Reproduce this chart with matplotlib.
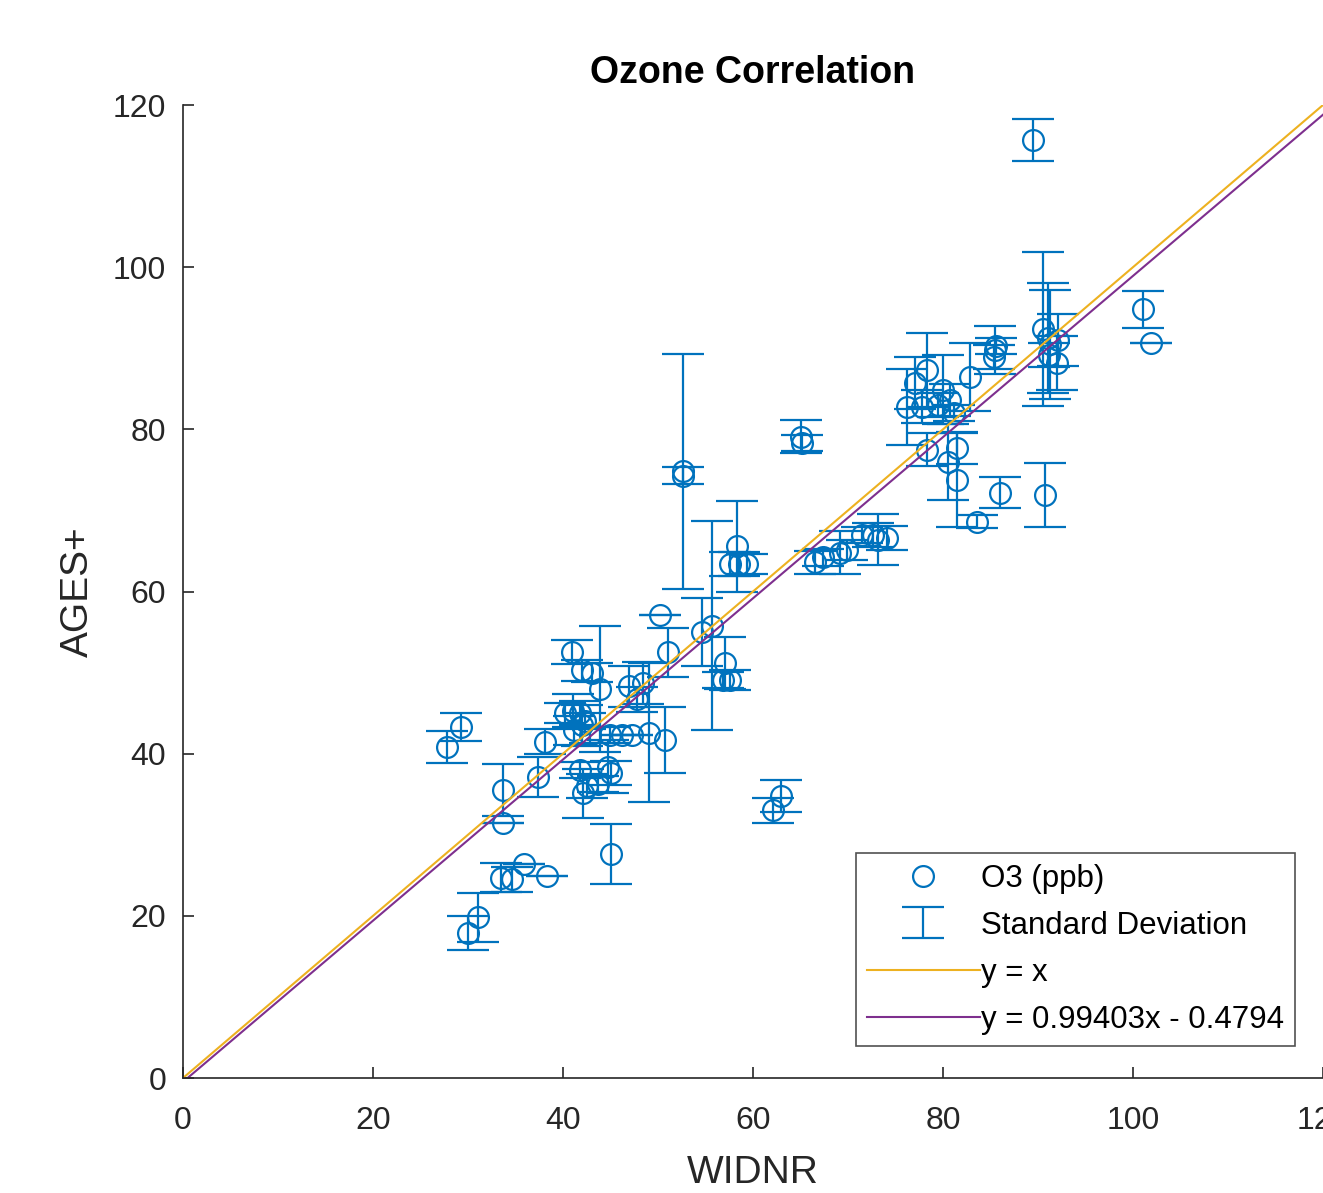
import matplotlib.pyplot as plt
import numpy as np

plt.rcParams['font.family'] = ['Liberation Sans', 'DejaVu Sans']

# WIDNR vs AGES+ ozone (ppb), with standard deviation of AGES+
widnr = [27.8, 29.3, 30.0, 31.0, 33.7, 33.7, 33.5, 34.6, 35.9, 38.3,
         37.4, 38.1, 40.9, 42.0, 43.9, 43.0, 40.2, 41.0, 41.8, 42.3,
         41.2, 42.0, 42.8, 44.9, 46.2, 47.3, 49.0, 50.7, 46.9, 47.8,
         48.4, 41.8, 42.1, 42.5, 43.7, 44.7, 45.1, 45.0, 50.2, 51.1,
         52.6, 52.6, 54.6, 55.7, 57.0, 56.8, 57.6, 58.3, 57.6, 58.5,
         59.4, 62.1, 62.9, 65.1, 65.2, 66.5, 67.4, 69.2, 69.9, 72.6,
         73.2, 74.1, 71.5, 76.2, 77.1, 78.3, 77.8, 80.0, 80.7, 79.5,
         81.2, 82.8, 85.5, 85.4, 85.6, 78.3, 80.5, 81.5, 81.5, 83.6,
         86.0, 90.7, 89.5, 101.0, 101.9, 90.5, 91.0, 91.3, 92.1, 92.0,
         91.2]
ages = [40.8, 43.3, 17.9, 19.8, 35.5, 31.5, 24.7, 24.5, 26.4, 24.9,
        37.1, 41.5, 52.5, 50.3, 48.0, 50.0, 45.0, 45.3, 45.0, 44.0,
        42.9, 43.5, 42.3, 42.3, 42.3, 42.3, 42.6, 41.7, 48.3, 46.7,
        48.7, 38.0, 35.1, 36.0, 36.3, 38.4, 37.6, 27.6, 57.1, 52.5,
        74.8, 74.3, 55.0, 55.8, 51.2, 49.1, 49.1, 65.6, 63.4, 63.4,
        63.4, 33.0, 34.8, 79.1, 78.3, 63.6, 64.2, 64.8, 65.1, 67.0,
        66.4, 66.6, 67.0, 82.8, 85.7, 87.3, 82.8, 84.9, 83.6, 83.0,
        82.0, 86.5, 89.8, 88.9, 90.3, 77.5, 76.0, 77.7, 73.8, 68.6,
        72.2, 71.9, 115.7, 94.8, 90.6, 92.4, 91.3, 90.5, 91.0, 88.2,
        89.2]
sd = [2.0, 1.7, 2.1, 3.0, 3.2, 0.0, 1.8, 1.5, 0.0, 0.0,
      2.5, 1.5, 1.5, 1.3, 7.8, 1.2, 1.2, 2.0, 1.5, 1.0,
      1.8, 2.5, 1.0, 1.0, 0.0, 0.0, 8.6, 4.1, 2.5, 1.5,
      2.6, 1.0, 3.0, 1.5, 1.0, 3.3, 1.5, 3.7, 0.0, 3.0,
      14.5, 1.0, 4.2, 12.9, 3.2, 1.0, 1.2, 5.6, 1.5, 1.5,
      1.2, 1.5, 2.0, 2.0, 1.0, 1.4, 1.0, 2.6, 1.2, 1.5,
      3.1, 1.5, 1.0, 4.7, 3.2, 4.6, 2.0, 4.3, 2.0, 1.5,
      1.0, 4.2, 3.0, 1.5, 1.0, 2.0, 4.7, 2.0, 5.8, 0.8,
      1.9, 3.9, 2.6, 2.3, 0.0, 9.5, 6.8, 6.7, 3.2, 3.3,
      1.5]

slope = 0.99403
intercept = -0.4794

blue = '#0072BD'
yellow = '#EDB120'
purple = '#7E2F8E'
dark = '#262626'

fig = plt.figure(figsize=(13.23, 11.93), dpi=100)
ax = fig.add_axes([183/1323, 115/1193, 1140/1323, 973/1193])

pts, = ax.plot(widnr, ages, 'o', color=blue, mfc='none', ms=15, mew=1.6,
               label='O3 (ppb)')
eb = ax.errorbar(widnr, ages, yerr=sd, fmt='none', ecolor=blue, elinewidth=1.6,
                 capsize=15, capthick=1.6, label='Standard Deviation')

xx = np.array([0, 120])
l1, = ax.plot(xx, xx, color=yellow, lw=1.5, label='y = x')
l2, = ax.plot(xx, slope*xx + intercept, color=purple, lw=1.5,
              label='y = 0.99403x - 0.4794')

ax.set_xlim(0, 120)
ax.set_ylim(0, 120)
ax.set_xticks(np.arange(0, 121, 20))
ax.set_yticks(np.arange(0, 121, 20))
ax.spines['top'].set_visible(False)
ax.spines['right'].set_visible(False)
for s in ['left', 'bottom']:
    ax.spines[s].set_color(dark)
    ax.spines[s].set_linewidth(1.2)
ax.tick_params(direction='in', length=8, width=1.2, colors=dark, labelsize=23)
ax.tick_params(axis='x', pad=20)
ax.tick_params(axis='y', pad=12)

ax.set_title('Ozone Correlation', fontsize=27, fontweight='bold', pad=16)
ax.set_xlabel('WIDNR', fontsize=28, color=dark, labelpad=14)
ax.set_ylabel('AGES+', fontsize=28, color=dark, labelpad=12)

leg = ax.legend(handles=[pts, eb, l1, l2], loc='lower right',
                bbox_to_anchor=((1295 - 183)/1140, (1078 - 1046)/973), fontsize=22.5,
                frameon=True, fancybox=False, edgecolor=dark,
                handlelength=3.6, handletextpad=0.05, borderpad=0.35,
                borderaxespad=0, labelspacing=0.55)
leg.get_frame().set_linewidth(1.2)

fig.savefig('out.png', dpi=100)
